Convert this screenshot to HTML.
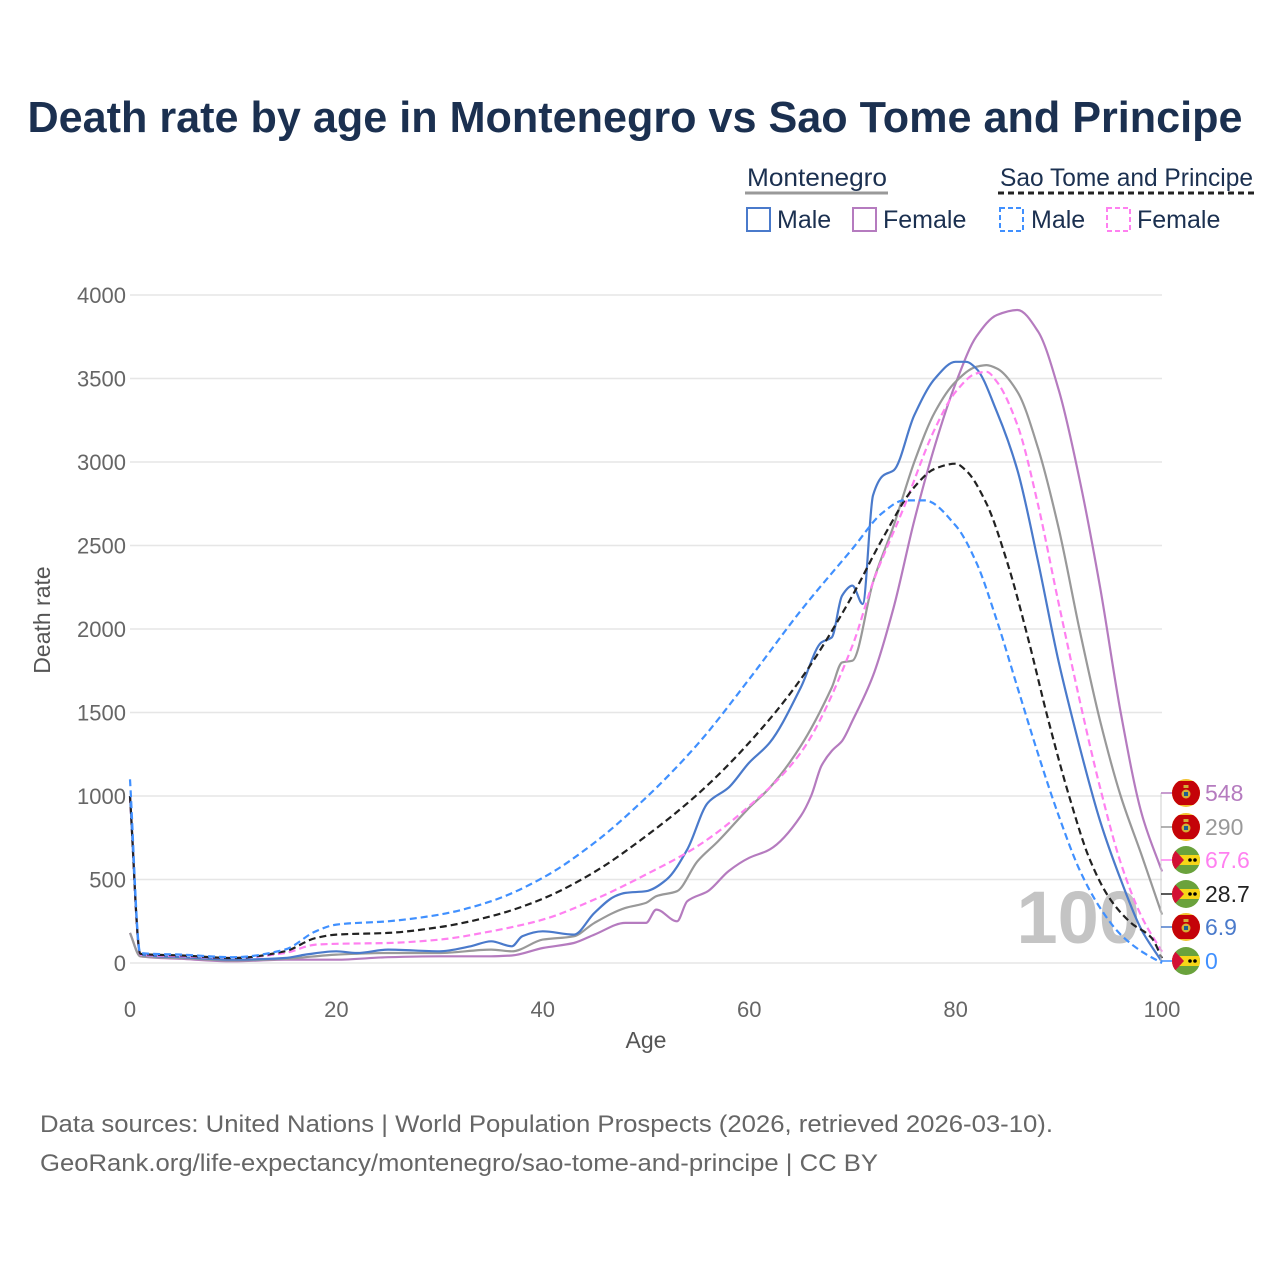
<!DOCTYPE html>
<html><head><meta charset="utf-8"><style>
html,body{margin:0;padding:0;background:#fff}
svg{display:block;font-family:"Liberation Sans",sans-serif}
</style></head><body>
<svg id="chart" width="1280" height="1280" viewBox="0 0 1280 1280" xmlns="http://www.w3.org/2000/svg">
<defs><clipPath id="fc"><circle cx="0" cy="0" r="14"/></clipPath></defs>
<text x="635" y="132" text-anchor="middle" font-size="44" font-weight="bold" fill="#1b3050" textLength="1215" lengthAdjust="spacingAndGlyphs">Death rate by age in Montenegro vs Sao Tome and Principe</text>
<g font-size="25" fill="#1b3050">
<text x="747" y="186" textLength="140" lengthAdjust="spacingAndGlyphs">Montenegro</text>
<line x1="745" y1="193" x2="888" y2="193" stroke="#999" stroke-width="3"/>
<text x="1000" y="186" textLength="253" lengthAdjust="spacingAndGlyphs">Sao Tome and Principe</text>
<line x1="998" y1="193" x2="1255" y2="193" stroke="#222" stroke-width="3" stroke-dasharray="6,4"/>
<g><rect x="747" y="208" width="23" height="23" fill="none" stroke="#4a7acb" stroke-width="2"/><text x="777" y="228" fill="#1b3050">Male</text></g>
<g><rect x="853" y="208" width="23" height="23" fill="none" stroke="#b57bbf" stroke-width="2"/><text x="883" y="228" fill="#1b3050">Female</text></g>
<g><rect x="1000" y="208" width="23" height="23" fill="none" stroke="#4090ff" stroke-width="2" stroke-dasharray="5,3"/><text x="1031" y="228" fill="#1b3050">Male</text></g>
<g><rect x="1107" y="208" width="23" height="23" fill="none" stroke="#ff80f0" stroke-width="2" stroke-dasharray="5,3"/><text x="1137" y="228" fill="#1b3050">Female</text></g>
</g>
<g id="grid"></g>
<g id="axes"></g>
<text x="1140" y="943" text-anchor="end" font-size="74" font-weight="bold" fill="#c4c4c4">100</text>
<g id="series"></g>
<g id="endlabels"></g>
<text transform="translate(50,620) rotate(-90)" text-anchor="middle" font-size="23" fill="#555">Death rate</text>
<text x="646" y="1048" text-anchor="middle" font-size="23" fill="#555">Age</text>
<text x="40" y="1132" font-size="24" fill="#666" textLength="1013" lengthAdjust="spacingAndGlyphs">Data sources: United Nations | World Population Prospects (2026, retrieved 2026-03-10).</text>
<text x="40" y="1171" font-size="24" fill="#666" textLength="838" lengthAdjust="spacingAndGlyphs">GeoRank.org/life-expectancy/montenegro/sao-tome-and-principe | CC BY</text>
</svg>
<script>
const xTicks=[0,20,40,60,80,100];
const yTicks=[0,500,1000,1500,2000,2500,3000,3500,4000];
const mneMaleAges=[0,1,5,10,15,17,20,22,25,30,33,35,37,38,40,43,45,47,48,50,52,54,56,58,60,62,65,67,68,69,70,71,72,73,74,76,78,80,81,82,84,86,88,90,92,94,96,98,100];
const mneMaleVals=[1000,50,35,20,30,50,70,60,80,70,100,130,100,160,190,170,300,400,420,430,500,680,960,1050,1200,1320,1650,1920,1950,2200,2260,2150,2800,2920,2950,3280,3500,3600,3600,3560,3300,2950,2400,1800,1300,850,500,200,6.9];
const mneFemaleAges=[0,1,5,10,15,20,25,30,35,37,40,43,45,48,50,51,53,54,56,58,60,62,65,66,67,68,69,70,72,74,76,78,80,82,84,86,88,90,92,94,96,98,100];
const mneFemaleVals=[180,40,25,10,20,20,35,40,40,45,90,120,170,240,240,320,250,370,430,550,630,680,880,1000,1180,1270,1330,1450,1720,2130,2650,3100,3470,3750,3880,3910,3780,3430,2900,2250,1500,900,548];
const mneTotalAges=[0,1,5,10,15,20,25,30,35,37,40,43,45,48,50,51,53,55,57,60,62,65,68,69,70,72,74,76,78,80,82,83,84,86,88,90,92,94,96,98,100];
const mneTotalVals=[180,40,30,15,25,50,60,60,80,70,140,160,240,330,360,400,430,610,730,930,1050,1300,1650,1800,1810,2280,2620,3000,3300,3480,3570,3580,3560,3420,3080,2600,2000,1450,1000,650,290];
const stpMaleAges=[0,1,5,10,15,18,20,25,30,35,40,45,50,55,60,65,70,73,75,77,80,82,84,86,88,90,92,94,96,98,100];
const stpMaleVals=[1100,60,50,35,80,190,230,250,290,370,510,720,990,1310,1700,2110,2480,2700,2770,2770,2620,2400,2050,1650,1250,880,560,330,170,70,0];
const stpFemaleAges=[0,1,5,10,15,18,20,25,30,35,40,45,50,55,60,65,70,72,75,78,80,82,83,84,86,88,90,92,94,96,98,100];
const stpFemaleVals=[1000,50,40,30,60,110,115,120,140,190,260,380,530,700,940,1260,1900,2280,2730,3200,3420,3530,3540,3480,3220,2740,2150,1580,1050,600,280,67.6];
const stpTotalAges=[0,1,5,10,15,18,20,25,30,35,40,45,50,55,60,65,70,73,76,78,80,81,83,85,87,89,91,93,95,97,99,100];
const stpTotalVals=[1000,55,45,30,70,150,170,180,215,280,385,545,760,1010,1320,1700,2200,2550,2850,2960,2990,2950,2750,2400,1950,1450,1000,620,380,240,150,28.7];
const endLabels=["548","290","67.6","28.7","6.9","0"];

const NS="http://www.w3.org/2000/svg";
const X0=130,X1=1162,Y0=963,Y1=295;
const xs=a=>X0+(X1-X0)*a/100;
const ys=v=>Y0-(Y0-Y1)*v/4000;
function mk(tag,attrs,parent){const e=document.createElementNS(NS,tag);for(const k in attrs)e.setAttribute(k,attrs[k]);parent.appendChild(e);return e;}
const grid=document.getElementById('grid'),axes=document.getElementById('axes');
yTicks.forEach(t=>{
  const l=mk('line',{x1:X0,x2:X1,y1:ys(t),y2:ys(t),stroke:'#e6e6e6','stroke-width':1.5},grid);
  
  
  const tx=mk('text',{x:126,y:ys(t)+8,'text-anchor':'end','font-size':22,fill:'#666'},axes);
  tx.textContent=t;
  
  
});
xTicks.forEach(t=>{
  const tx=mk('text',{x:xs(t),y:1017,'text-anchor':'middle','font-size':22,fill:'#666'},axes);
  tx.textContent=t;
  
  
});
const ser=document.getElementById('series');
// monotone cubic interpolation (no overshoot)
function monoPath(pts){
  const n=pts.length,dx=[],sl=[],m=[];
  for(let i=0;i<n-1;i++){dx[i]=pts[i+1][0]-pts[i][0];sl[i]=(pts[i+1][1]-pts[i][1])/dx[i];}
  m[0]=sl[0];m[n-1]=sl[n-2];
  for(let i=1;i<n-1;i++){
    if(sl[i-1]*sl[i]<=0)m[i]=0;
    else{const w1=2*dx[i]+dx[i-1],w2=dx[i]+2*dx[i-1];m[i]=(w1+w2)/(w1/sl[i-1]+w2/sl[i]);}
  }
  let d='M'+pts[0][0].toFixed(1)+','+pts[0][1].toFixed(1);
  for(let i=0;i<n-1;i++){
    const h=dx[i]/3;
    d+=' C'+(pts[i][0]+h).toFixed(1)+','+(pts[i][1]+m[i]*h).toFixed(1)+' '+(pts[i+1][0]-h).toFixed(1)+','+(pts[i+1][1]-m[i+1]*h).toFixed(1)+' '+pts[i+1][0].toFixed(1)+','+pts[i+1][1].toFixed(1);
  }
  return d;
}
function line(ages,vals,color,dash,name){
  const pts=ages.map((a,i)=>[xs(a),ys(vals[i])]);
  const p=mk('path',{d:monoPath(pts),fill:'none',stroke:color,'stroke-width':2.2,'stroke-linejoin':'round'},ser);
  if(dash)p.setAttribute('stroke-dasharray','7,4');
  
  
}
line(mneFemaleAges,mneFemaleVals,'#b57bbf',false,'line-montenegro-female');
line(mneTotalAges,mneTotalVals,'#999999',false,'line-montenegro-total');
line(mneMaleAges,mneMaleVals,'#4a7acb',false,'line-montenegro-male');
line(stpFemaleAges,stpFemaleVals,'#ff80f0',true,'line-stp-female');
line(stpTotalAges,stpTotalVals,'#222222',true,'line-stp-total');
line(stpMaleAges,stpMaleVals,'#4090ff',true,'line-stp-male');

const el=document.getElementById('endlabels');
const labColors=['#b57bbf','#999999','#ff80f0','#222222','#4a7acb','#4090ff'];
const labFlags=['m','m','s','s','m','s'];
const labYs=[793,827,860,894,927,961];
mk('line',{x1:1161,x2:1161,y1:793,y2:961,stroke:'#ccc','stroke-width':1},el);
labYs.forEach((y,i)=>{
  mk('line',{x1:1161,x2:1172,y1:y,y2:y,stroke:labColors[i],'stroke-width':1.5},el);
  const g=mk('g',{transform:`translate(1186,${y})`},el);
  
  
  const c=mk('g',{'clip-path':'url(#fc)'},g);
  if(labFlags[i]==='m'){
    mk('rect',{x:-15,y:-15,width:30,height:30,fill:'#f2c230'},c);
    mk('rect',{x:-15,y:-12,width:30,height:24,fill:'#c40308'},c);
    mk('circle',{cx:0,cy:1,r:4.5,fill:'#d4af37'},c);
    mk('rect',{x:-2,y:-1,width:4,height:4,fill:'#1d5e91'},c);
    mk('rect',{x:-2.5,y:-8,width:5,height:3,fill:'#d4af37'},c);
  } else {
    mk('rect',{x:-15,y:-15,width:30,height:30,fill:'#6aa23c'},c);
    mk('rect',{x:-15,y:-5,width:30,height:10,fill:'#f7d618'},c);
    mk('path',{d:'M-15,-14 L-2,0 L-15,14 Z',fill:'#d21034'},c);
    mk('circle',{cx:4,cy:0,r:1.8,fill:'#000'},c);
    mk('circle',{cx:9,cy:0,r:1.8,fill:'#000'},c);
  }
  const t=mk('text',{x:1205,y:y+8,'font-size':23,fill:labColors[i]},el);
  t.textContent=endLabels[i];
  
  
});
</script>
</body></html>
